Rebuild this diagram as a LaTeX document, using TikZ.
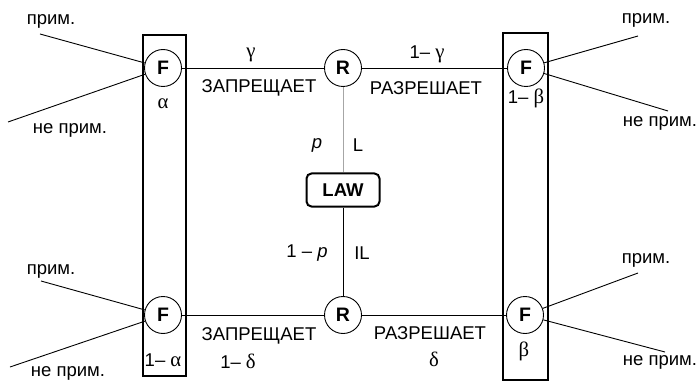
\documentclass[tikz,border=0pt]{standalone}
\usepackage{fontspec}
\setmainfont{Liberation Sans}
\newfontfamily\gr{Liberation Serif}[Scale=1.12]
\begin{document}
\begin{tikzpicture}[x=1pt,y=-1pt,
  every node/.style={font=\fontsize{18.5}{22}\selectfont},
  circ/.style={draw,circle,line width=0.9pt,minimum size=37pt,inner sep=0pt,font=\fontsize{19.5}{22}\selectfont\bfseries},
  lab/.style={inner sep=0pt,anchor=center},
  thin line/.style={line width=0.9pt},
  frame/.style={draw,line width=2.3pt},
  lawbox/.style={draw,line width=2pt,rounded corners=5pt,minimum width=73pt,minimum height=33pt,inner sep=0pt,font=\fontsize{18.5}{22}\selectfont\bfseries}]
\useasboundingbox (0,0) rectangle (698,382);
% frames
\draw[frame] (143,35) rectangle (186,376);
\draw[frame] (503,33) rectangle (548,380);
% nodes
\node[circ] (FL1) at (163,68) {F};
\node[circ] (R1) at (343,68) {R};
\node[circ] (FR1) at (526,68) {F};
\node[circ] (FL2) at (163,315) {F};
\node[circ] (R2) at (343,315) {R};
\node[circ] (FR2) at (525,315) {F};
\node[lawbox] (LAW) at (343,190) {LAW};
% connectors
\draw[thin line] (FL1) -- (R1);
\draw[thin line] (R1) -- (FR1);
\draw[thin line] (FL2) -- (R2);
\draw[thin line] (R2) -- (FR2);
\draw[thin line,gray!70] (R1) -- (LAW);
\draw[thin line] (LAW) -- (R2);
% side lines
\coordinate (a1) at (40,34);
\coordinate (a2) at (8,122);
\coordinate (b1) at (638,36);
\coordinate (b2) at (668,111);
\coordinate (c1) at (41,281);
\coordinate (c2) at (10,367);
\coordinate (d1) at (638,273);
\coordinate (d2) at (665,352);
\draw[thin line] (a1) -- (FL1);
\draw[thin line] (a2) -- (FL1);
\draw[thin line] (b1) -- (FR1);
\draw[thin line] (b2) -- (FR1);
\draw[thin line] (c1) -- (FL2);
\draw[thin line] (c2) -- (FL2);
\draw[thin line] (d1) -- (FR2);
\draw[thin line] (d2) -- (FR2);
% side labels
\node[lab] (t1) at (51,21) {прим.};
\node[lab] (t2) at (70,130) {не прим.};
\node[lab] (t3) at (646,20) {прим.};
\node[lab] (t4) at (660,123) {не прим.};
\node[lab] (t5) at (51,271) {прим.};
\node[lab] (t6) at (68,373) {не прим.};
\node[lab] (t7) at (646,260) {прим.};
\node[lab] (t8) at (660,362) {не прим.};
% edge labels
\node[lab] (g1) at (251,55) {\gr γ};
\node[lab] (g2) at (427,54) {1– {\gr γ}};
\node[lab] (z1) at (259,88) {ЗАПРЕЩАЕТ};
\node[lab] (r1) at (426,88) {РАЗРЕШАЕТ};
\node[lab] (al) at (163,104) {\gr α};
\node[lab] (b1l) at (526,98) {1– {\gr β}};
\node[lab] (pl) at (317,145) {\itshape p};
\node[lab] (ll) at (358,145) {L};
\node[lab] (pl2) at (307,253) {1 – \itshape p};
\node[lab] (il) at (362,253) {IL};
\node[lab] (z2) at (259,336) {ЗАПРЕЩАЕТ};
\node[lab] (d1l) at (238,361) {1– {\gr δ}};
\node[lab] (r2) at (430,333) {РАЗРЕШАЕТ};
\node[lab] (dl) at (434,359) {\gr δ};
\node[lab] (a1l) at (163,360) {1– {\gr α}};
\node[lab] (bl) at (524,351) {\gr β};
\end{tikzpicture}
\end{document}
